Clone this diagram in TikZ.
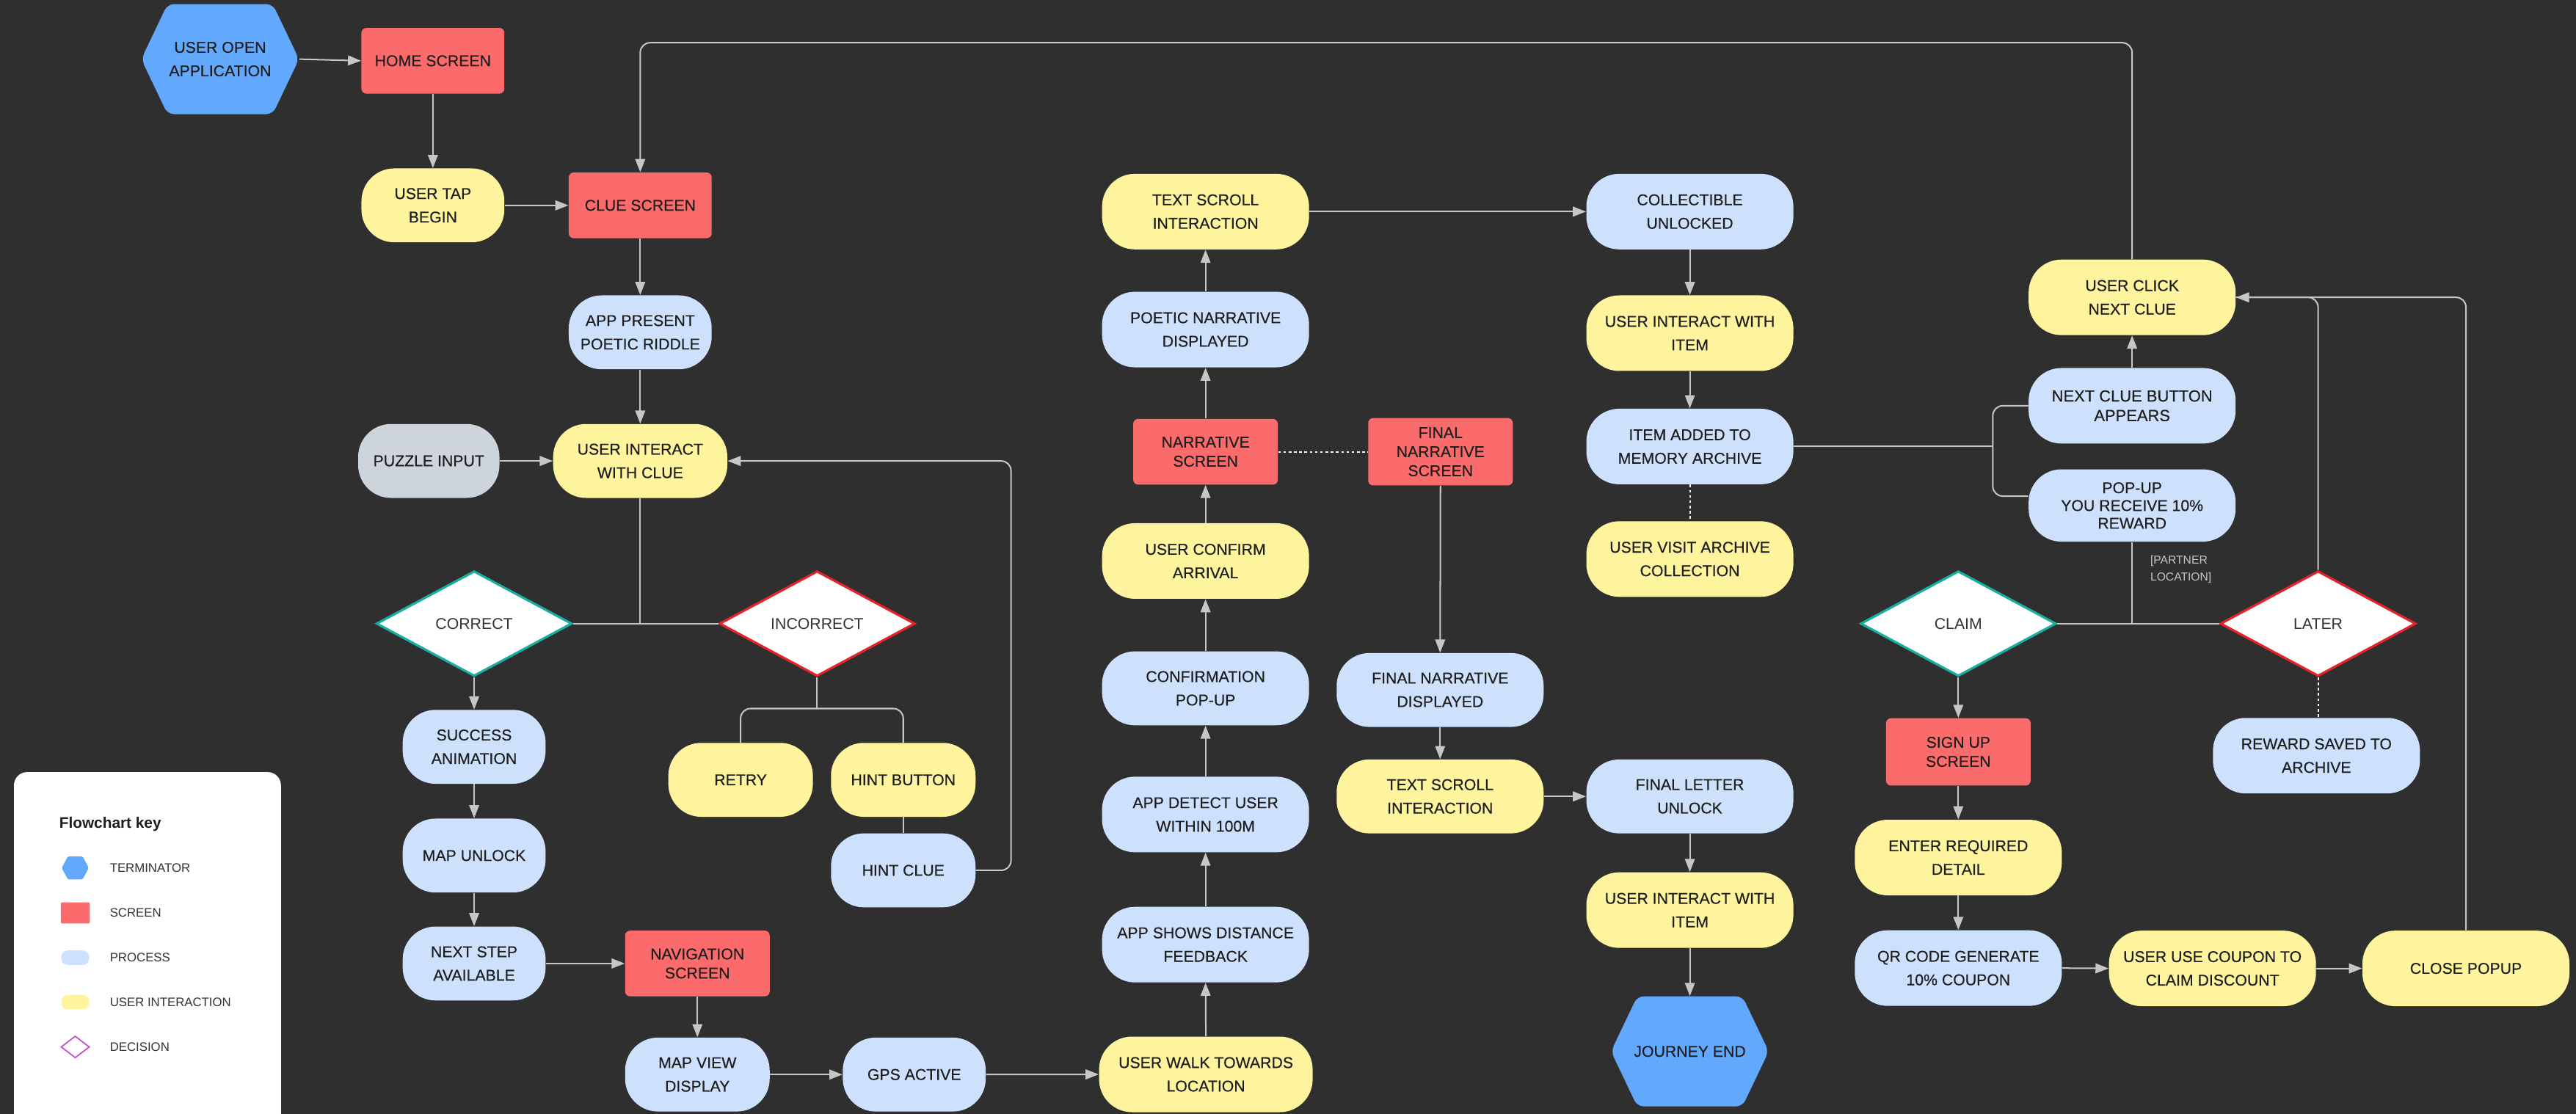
\documentclass[tikz,border=0pt]{standalone}
\usepackage{fontspec}
\setmainfont{Liberation Sans}
\newfontfamily\nodefont[FakeBold=0.4]{Liberation Sans}
\usetikzlibrary{arrows.meta,shapes.geometric}
\definecolor{bg}{HTML}{2F2F2F}
\definecolor{termblue}{HTML}{62A8FD}
\definecolor{scrred}{HTML}{FC6B6B}
\definecolor{procblue}{HTML}{CDE1FD}
\definecolor{useryellow}{HTML}{FDF49D}
\definecolor{inputgray}{HTML}{CED4DC}
\definecolor{okteal}{HTML}{19AE9E}
\definecolor{nored}{HTML}{E4232B}
\definecolor{keymag}{HTML}{C552C9}
\definecolor{linegray}{HTML}{C6C6C6}
\definecolor{txt}{HTML}{1E1E1E}
\definecolor{dtxt}{HTML}{333333}
\tikzset{
 base/.style={font=\nodefont\fontsize{9.5}{14.3}\selectfont, text=txt, align=center, inner sep=0pt},
 pill/.style={base, rounded corners=20pt, minimum height=45pt},
 proc/.style={pill, fill=procblue},
 uint/.style={pill, fill=useryellow},
 scr/.style={base, fill=scrred, rounded corners=3pt, minimum width=88pt, minimum height=40pt, font=\nodefont\fontsize{9.5}{11.6}\selectfont},
 dec/.style={diamond, base, fill=white, line width=1.4pt, minimum width=119pt, minimum height=64pt, text=dtxt, font=\fontsize{9.5}{11.6}\selectfont},
 nar/.style={minimum width=87pt},
 wid/.style={minimum width=126pt},
 conn/.style={draw=linegray, line width=0.9pt},
 arr/.style={conn, -{Triangle[length=8pt,width=6pt]}},
 dots/.style={draw=white!85!linegray, line width=0.9pt, dash pattern=on 1.6pt off 1.6pt},
 keytxt/.style={font=\fontsize{7.5}{9}\selectfont, text=dtxt, anchor=west, inner sep=0pt},
}
\newcommand\hexnode[6]{%
 \fill[termblue, rounded corners=4pt] ({#2-#4/2},#3) -- ({#2-#4/2+16},{#3-#5/2}) -- ({#2+#4/2-16},{#3-#5/2}) -- ({#2+#4/2},#3) -- ({#2+#4/2-16},{#3+#5/2}) -- ({#2-#4/2+16},{#3+#5/2}) -- cycle;
 \node[base, minimum width=#4pt, minimum height=#5pt] (#1) at (#2,#3) {#6};}
\begin{document}
\begin{tikzpicture}[x=1pt,y=-1pt]
\useasboundingbox (0,0) rectangle (1568,678);
\fill[bg] (0,0) rectangle (1568,678);
\clip (0,0) rectangle (1568,678);

% ---------- nodes ----------
\hexnode{open}{134}{36}{96}{67}{USER OPEN\\APPLICATION}
\node[scr, minimum width=87pt] (home) at (263.5,37) {HOME SCREEN};
\node[uint, nar] (tap) at (263.5,125) {USER TAP\\BEGIN};
\node[scr, minimum width=87pt] (cluescr) at (389.7,125) {CLUE SCREEN};
\node[proc, nar] (riddle) at (389.7,202.3) {APP PRESENT\\POETIC RIDDLE};
\node[pill, fill=inputgray, minimum width=86pt] (puzzle) at (261,280.6) {PUZZLE INPUT};
\node[uint, minimum width=106pt] (interact) at (389.7,280.6) {USER INTERACT\\WITH CLUE};
\node[dec, draw=okteal] (correct) at (288.6,379.6) {CORRECT};
\node[dec, draw=nored] (incorrect) at (497.4,379.6) {INCORRECT};
\node[proc, nar] (success) at (288.6,454.6) {SUCCESS\\ANIMATION};
\node[uint, minimum width=88pt] (retry) at (450.8,474.7) {RETRY};
\node[uint, minimum width=88pt] (hintbtn) at (549.8,474.7) {HINT BUTTON};
\node[proc, minimum width=88pt] (hintclue) at (549.8,529.8) {HINT CLUE};
\node[proc, nar] (mapunlock) at (288.6,520.8) {MAP UNLOCK};
\node[proc, nar] (nextstep) at (288.6,586.5) {NEXT STEP\\AVAILABLE};
\node[scr] (navscr) at (424.5,586.5) {NAVIGATION\\SCREEN};
\node[proc, minimum width=88pt] (mapview) at (424.5,654.1) {MAP VIEW\\DISPLAY};
\node[proc, nar] (gps) at (556.5,654.1) {GPS ACTIVE};
\node[uint, minimum width=130pt, minimum height=46pt] (walk) at (734,654) {USER WALK TOWARDS\\LOCATION};
\node[proc, wid, minimum height=46pt] (distance) at (733.8,575) {APP SHOWS DISTANCE\\FEEDBACK};
\node[proc, wid, minimum height=46pt] (detect) at (733.8,495.8) {APP DETECT USER\\WITHIN 100M};
\node[proc, wid] (confirm) at (733.8,419) {CONFIRMATION\\POP-UP};
\node[uint, wid, minimum height=46pt] (arrival) at (733.8,341.5) {USER CONFIRM\\ARRIVAL};
\node[scr] (narr) at (733.8,275) {NARRATIVE\\SCREEN};
\node[proc, wid, minimum height=46pt] (poetic) at (733.8,200.6) {POETIC NARRATIVE\\DISPLAYED};
\node[uint, wid, minimum height=46pt] (textscroll) at (733.8,128.8) {TEXT SCROLL\\INTERACTION};
\node[scr, minimum height=41pt] (finnarr) at (876.8,275) {FINAL\\NARRATIVE\\SCREEN};
\node[proc, wid] (findisp) at (876.6,420) {FINAL NARRATIVE\\DISPLAYED};
\node[uint, wid] (textscrolltwo) at (876.6,484.8) {TEXT SCROLL\\INTERACTION};
\node[proc, wid, minimum height=46pt] (collect) at (1028.6,128.8) {COLLECTIBLE\\UNLOCKED};
\node[uint, wid, minimum height=46pt] (itemone) at (1028.6,202.8) {USER INTERACT WITH\\ITEM};
\node[proc, wid, minimum height=46pt] (added) at (1028.6,271.8) {ITEM ADDED TO\\MEMORY ARCHIVE};
\node[uint, wid, minimum height=46pt] (visit) at (1028.6,340.3) {USER VISIT ARCHIVE\\COLLECTION};
\node[proc, wid] (finletter) at (1028.6,484.8) {FINAL LETTER\\UNLOCK};
\node[uint, wid, minimum height=46pt] (itemtwo) at (1028.6,554) {USER INTERACT WITH\\ITEM};
\hexnode{journey}{1028.6}{640}{96}{67}{JOURNEY END}
\node[uint, wid, minimum height=46pt] (click) at (1297.8,181) {USER CLICK\\NEXT CLUE};
\node[proc, wid, minimum height=46pt, font=\nodefont\fontsize{9.8}{11.9}\selectfont] (nextbtn) at (1297.8,247) {NEXT CLUE BUTTON\\APPEARS};
\node[proc, wid, minimum height=44pt, font=\nodefont\fontsize{9.5}{10.8}\selectfont] (popup) at (1297.8,307.7) {POP-UP\\YOU RECEIVE 10\%\\REWARD};
\node[font=\fontsize{7}{10}\selectfont, text=linegray, align=left, anchor=west, inner sep=0pt] (partner) at (1308.7,346.7) {[PARTNER\\LOCATION]};
\node[dec, draw=okteal] (claim) at (1192,379.6) {CLAIM};
\node[dec, draw=nored] (later) at (1411,379.6) {LATER};
\node[scr, minimum height=41pt] (signup) at (1192,457.7) {SIGN UP\\SCREEN};
\node[proc, wid, minimum height=46pt] (reward) at (1410,460) {REWARD SAVED TO\\ARCHIVE};
\node[uint, wid, minimum height=46pt] (enter) at (1192,522) {ENTER REQUIRED\\DETAIL};
\node[proc, wid, minimum height=46pt] (qr) at (1192,589.3) {QR CODE GENERATE\\10\% COUPON};
\node[uint, wid, minimum height=46pt] (coupon) at (1346.7,589.5) {USER USE COUPON TO\\CLAIM DISCOUNT};
\node[uint, wid, minimum height=46pt] (close) at (1501,589.5) {CLOSE POPUP};

% ---------- routing coordinates ----------
\coordinate (ty) at (0,26);
\coordinate (hx) at (615.4,0);
\coordinate (jy) at (0,431.3);
\coordinate (bx) at (1213,0);
\coordinate (py) at (0,302);

% ---------- connectors ----------
\draw[arr] (open.east) -- (home.west);
\draw[arr] (home.south) -- (tap.north);
\draw[arr] (tap.east) -- (cluescr.west);
\draw[arr] (cluescr.south) -- (riddle.north);
\draw[arr] (riddle.south) -- (interact.north);
\draw[arr] (puzzle.east) -- (interact.west);
\draw[conn] (interact.south) -- (interact.south |- correct.east);
\draw[conn] (correct.east) -- (incorrect.west);
\draw[arr] (correct.south) -- (success.north);
\draw[conn] (incorrect.south) -- (incorrect.south |- jy);
\draw[conn, rounded corners=6pt] (retry.north) -- (retry.north |- jy) -- (hintbtn.north |- jy) -- (hintbtn.north);
\draw[conn] (hintbtn.south) -- (hintclue.north);
\draw[arr, rounded corners=6pt] (hintclue.east) -- (hintclue.east -| hx) -- (interact.east -| hx) -- (interact.east);
\draw[arr] (success.south) -- (mapunlock.north);
\draw[arr] (mapunlock.south) -- (nextstep.north);
\draw[arr] (nextstep.east) -- (navscr.west);
\draw[arr] (navscr.south) -- (mapview.north);
\draw[arr] (mapview.east) -- (gps.west);
\draw[arr] (gps.east) -- (walk.west);
\draw[arr] (walk.north) -- (distance.south);
\draw[arr] (distance.north) -- (detect.south);
\draw[arr] (detect.north) -- (confirm.south);
\draw[arr] (confirm.north) -- (arrival.south);
\draw[arr] (arrival.north) -- (narr.south);
\draw[arr] (narr.north) -- (poetic.south);
\draw[arr] (poetic.north) -- (textscroll.south);
\draw[arr] (textscroll.east) -- (collect.west);
\draw[arr] (collect.south) -- (itemone.north);
\draw[arr] (itemone.south) -- (added.north);
\draw[dots] (added.south) -- (visit.north);
\draw[dots] (narr.east) -- (finnarr.west);
\draw[arr] (finnarr.south) -- (findisp.north);
\draw[arr] (findisp.south) -- (textscrolltwo.north);
\draw[arr] (textscrolltwo.east) -- (finletter.west);
\draw[arr] (finletter.south) -- (itemtwo.north);
\draw[arr] (itemtwo.south) -- (journey.north);
\draw[conn] (added.east) -- (added.east -| bx);
\draw[conn, rounded corners=6pt] (nextbtn.west) -- (nextbtn.west -| bx) -- (bx |- py) -- (popup.west |- py);
\draw[arr] (nextbtn.north) -- (click.south);
\draw[arr, rounded corners=6pt] (click.north) -- (click.north |- ty) -- (cluescr.north |- ty) -- (cluescr.north);
\draw[conn] (popup.south) -- (popup.south |- claim.east);
\draw[conn] (claim.east) -- (later.west);
\draw[arr] (claim.south) -- (signup.north);
\draw[arr] (signup.south) -- (enter.north);
\draw[arr] (enter.south) -- (qr.north);
\draw[arr] (qr.east) -- (coupon.west);
\draw[arr] (coupon.east) -- (close.west);
\draw[dots] (later.south) -- (later.south |- reward.north);
\draw[conn, rounded corners=6pt] (later.north) -- (later.north |- click.east) -- (click.east);
\draw[arr, rounded corners=6pt] (close.north) -- (close.north |- click.east) -- (click.east);

% ---------- legend ----------
\fill[white, rounded corners=8pt] (8.5,470) rectangle (171,700);
\node[font=\bfseries\fontsize{9.3}{11}\selectfont, text=txt, anchor=west, inner sep=0pt] (keytitle) at (35.9,501.5) {Flowchart key};
\fill[termblue, rounded corners=1pt] (37.6,528.3) -- (41.3,521.3) -- (50.3,521.3) -- (54,528.3) -- (50.3,535.3) -- (41.3,535.3) -- cycle;
\node[keytxt] (kterm) at (66.7,528.3) {TERMINATOR};
\fill[scrred, rounded corners=1pt] (37,549.3) rectangle (54.7,562.1);
\node[keytxt] (kscr) at (66.7,555.8) {SCREEN};
\fill[procblue, rounded corners=4pt] (37.3,578.6) rectangle (54.3,587.4);
\node[keytxt] (kproc) at (66.7,583) {PROCESS};
\fill[useryellow, rounded corners=4pt] (37.3,605.6) rectangle (54.3,614.4);
\node[keytxt] (kuser) at (66.7,610) {USER INTERACTION};
\draw[keymag, line width=0.8pt, fill=white] (37.3,637.3) -- (45.8,630.8) -- (54.3,637.3) -- (45.8,643.8) -- cycle;
\node[keytxt] (kdec) at (66.7,637.5) {DECISION};
\end{tikzpicture}
\end{document}
